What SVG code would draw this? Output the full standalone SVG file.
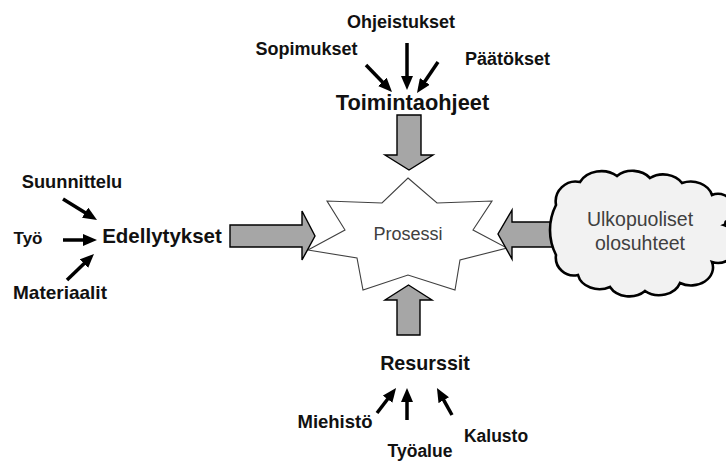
<svg xmlns="http://www.w3.org/2000/svg" width="726" height="463" viewBox="0 0 726 463">
  <style>
    .lbl { font-family: "Liberation Sans", Arial, sans-serif; font-weight: bold; fill: #111; text-anchor: middle; }
    .soft { font-family: "Liberation Sans", Arial, sans-serif; fill: #404040; text-anchor: middle; }
    .block { fill: #a6a6a6; stroke: #000; stroke-width: 1.4; stroke-linejoin: miter; }
    .thin { stroke: #000; stroke-width: 3.5; fill: none; marker-end: url(#head); }
  </style>
  <defs>
    <marker id="head" viewBox="0 0 14 12" refX="4" refY="6" markerWidth="14" markerHeight="12" markerUnits="userSpaceOnUse" orient="auto">
      <path d="M0,0 L14,6 L0,12 Z" fill="#000"/>
    </marker>
  </defs>

  <rect width="726" height="463" fill="#fff"/>

  <!-- central process star -->
  <g id="prosessi">
    <polygon points="408,178 437,203 492,201 473,230 507,248 460,260 455,290 408,275 363,290 357,258 308,250 345,230 327,201 382,203" fill="#fff" stroke="#404040" stroke-width="1.1"/>
    <text class="soft" x="408" y="240" font-size="18">Prosessi</text>
  </g>

  <!-- block arrows into the process -->
  <g id="connectors">
    <polygon class="block" points="397,115 421,115 421,155 433,155 409,170 385,155 397,155"/>
    <polygon class="block" points="408.5,285 432,300 420,300 420,335 397,335 397,300 385,300"/>
    <polygon class="block" points="230,225 302,225 302,211 315,236 302,260 302,247 230,247"/>
    <polygon class="block" points="562,222 512,222 512,210 498,234 512,259 512,247 562,247"/>

    <!-- small input arrows -->
    <line class="thin" x1="366" y1="65" x2="385.1" y2="84.8"/>
    <line class="thin" x1="407" y1="43" x2="407" y2="80"/>
    <line class="thin" x1="438" y1="62" x2="422.6" y2="84.7"/>

    <line class="thin" x1="63" y1="199" x2="88.5" y2="214.8"/>
    <line class="thin" x1="63" y1="240" x2="87" y2="240"/>
    <line class="thin" x1="67" y1="280" x2="86.8" y2="260.9"/>

    <line class="thin" x1="377" y1="413" x2="390" y2="396"/>
    <line class="thin" x1="407" y1="420" x2="407" y2="398"/>
    <line class="thin" x1="452" y1="415" x2="441.8" y2="396.7"/>
  </g>

  <!-- outside conditions cloud -->
  <g id="ulkopuoliset">
    <path d="M556,205 A20,20 0 0 1 580,182 A24,20 0 0 1 617,176 A22,18 0 0 1 650,178 A22,18 0 0 1 682,183 A22,18 0 0 1 712,195 A16,16 0 0 1 724,225 A18,18 0 0 1 712,262 A22,18 0 0 1 680,283 A22,18 0 0 1 645,291 A22,18 0 0 1 610,287 A22,18 0 0 1 578,275 A18,18 0 0 1 556,255 A55,55 0 0 1 556,205 Z" fill="#f2f2f2" stroke="#000" stroke-width="2.6"/>
    <circle cx="727" cy="223" r="3" fill="#000"/>
    <text class="soft" x="640" y="226" font-size="19.5">Ulkopuoliset</text>
    <text class="soft" x="640" y="250" font-size="19.5">olosuhteet</text>
  </g>

  <!-- guidance inputs -->
  <g id="toimintaohjeet">
    <text class="lbl" x="412.5" y="110" font-size="21.8">Toimintaohjeet</text>
  </g>
  <g id="ohjeistukset"><text class="lbl" x="401" y="28" font-size="18">Ohjeistukset</text></g>
  <g id="sopimukset"><text class="lbl" x="306.5" y="55" font-size="18">Sopimukset</text></g>
  <g id="paatokset"><text class="lbl" x="507.5" y="65" font-size="18">Päätökset</text></g>

  <!-- prerequisites -->
  <g id="edellytykset">
    <text class="lbl" x="162" y="243" font-size="20.5">Edellytykset</text>
  </g>
  <g id="suunnittelu"><text class="lbl" x="72" y="188" font-size="18.3">Suunnittelu</text></g>
  <g id="tyo"><text class="lbl" x="28" y="244" font-size="17">Työ</text></g>
  <g id="materiaalit"><text class="lbl" x="60" y="299" font-size="19">Materiaalit</text></g>

  <!-- resources -->
  <g id="resurssit">
    <text class="lbl" x="425" y="370" font-size="19.7">Resurssit</text>
  </g>
  <g id="miehisto"><text class="lbl" x="335" y="428" font-size="18.5">Miehistö</text></g>
  <g id="tyoalue"><text class="lbl" x="420" y="457" font-size="17.5">Työalue</text></g>
  <g id="kalusto"><text class="lbl" x="496" y="442" font-size="17.5">Kalusto</text></g>
</svg>
